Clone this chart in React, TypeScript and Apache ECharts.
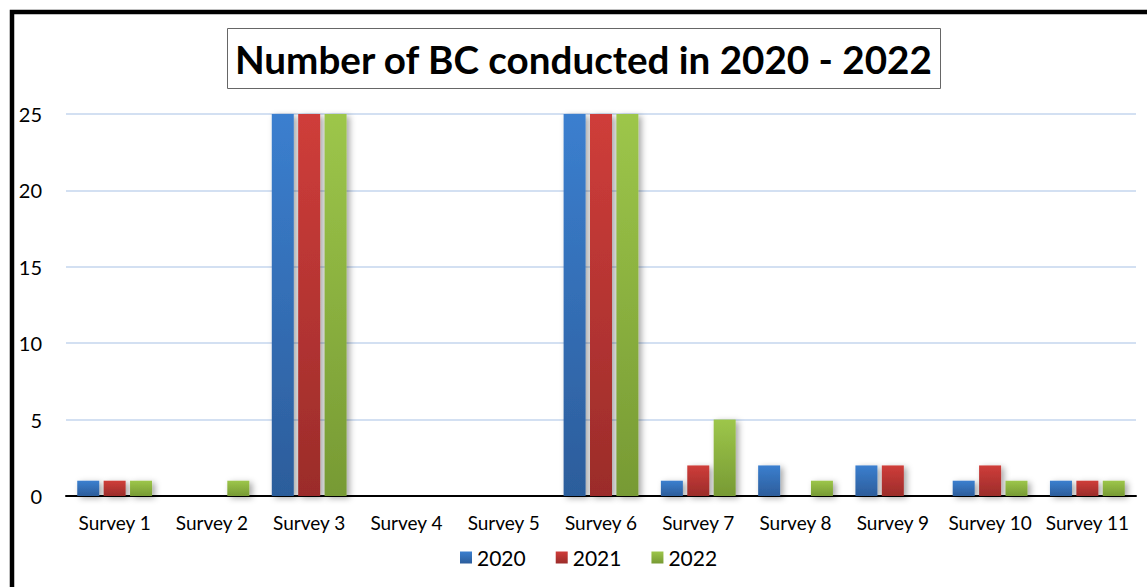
import React, { useEffect, useRef } from "react";
import * as echarts from "echarts";

const categories = ["Survey 1", "Survey 2", "Survey 3", "Survey 4", "Survey 5", "Survey 6", "Survey 7", "Survey 8", "Survey 9", "Survey 10", "Survey 11"];
const seriesNames = ["2020", "2021", "2022"];
const values2020 = [1, 0, 25, 0, 0, 25, 1, 2, 2, 1, 1];
const values2021 = [1, 0, 25, 0, 0, 25, 2, 0, 2, 2, 1];
const values2022 = [1, 1, 25, 0, 0, 25, 5, 1, 0, 1, 1];
const topColors = ["#3b7fcf", "#cf3d3a", "#9dc64a"];
const bottomColors = ["#2c5d9b", "#9b2c2a", "#779a34"];

const FONT = "Lato, 'Open Sans', sans-serif";

export default function App() {
  const ref = useRef<HTMLDivElement>(null);
  useEffect(() => {
    document.body.style.margin = "0";
    const chart = echarts.init(ref.current!, null, { renderer: "svg" });
    const data = [values2020, values2021, values2022];
    chart.setOption({
      animation: false,
      backgroundColor: "#ffffff",
      title: {
        text: "Number of BC conducted in 2020 - 2022",
        left: 227,
        top: 28,
        padding: [11, 7, 11, 8],
        borderColor: "#666666",
        borderWidth: 1,
        textStyle: { fontFamily: FONT, fontWeight: "bold", fontSize: 38.6, color: "#000000" },
      },
      legend: {
        bottom: 19,
        left: 460,
        padding: 0,
        itemWidth: 12,
        itemHeight: 12,
        itemGap: 30,
        icon: "rect",
        textStyle: { fontFamily: FONT, fontSize: 21, color: "#000000" },
        data: seriesNames,
      },
      grid: { left: 66, right: 11, top: 114, bottom: 91, containLabel: false },
      xAxis: {
        type: "category",
        data: categories,
        axisLine: { lineStyle: { color: "#000000", width: 2 } },
        axisTick: { show: false },
        axisLabel: { fontFamily: FONT, fontSize: 19, color: "#000000", margin: 17, interval: 0 },
      },
      yAxis: {
        type: "value",
        min: 0,
        max: 25,
        interval: 5,
        axisLine: { show: false },
        axisTick: { show: false },
        splitLine: { lineStyle: { color: "#d3e0f2", width: 2 } },
        axisLabel: { fontFamily: FONT, fontSize: 20, color: "#000000", margin: 24 },
      },
      graphic: [
        {
          type: "rect",
          shape: { x: 12, y: 12, width: 1300, height: 800 },
          style: { fill: "none", stroke: "#000000", lineWidth: 4.5 },
          z: 100,
          silent: true,
        },
      ],
      series: seriesNames.map((name, i) => ({
        name,
        type: "bar",
        data: data[i],
        barWidth: 22,
        barGap: "20%",
        itemStyle: {
          color: new echarts.graphic.LinearGradient(0, 0, 0, 1, [
            { offset: 0, color: topColors[i] },
            { offset: 1, color: bottomColors[i] },
          ]),
          shadowColor: "rgba(0,0,0,0.35)",
          shadowBlur: 6,
          shadowOffsetX: 3,
          shadowOffsetY: 2,
        },
      })),
      color: topColors,
    });
    return () => chart.dispose();
  }, []);
  return <div ref={ref} style={{ width: 1147, height: 587 }} />;
}
